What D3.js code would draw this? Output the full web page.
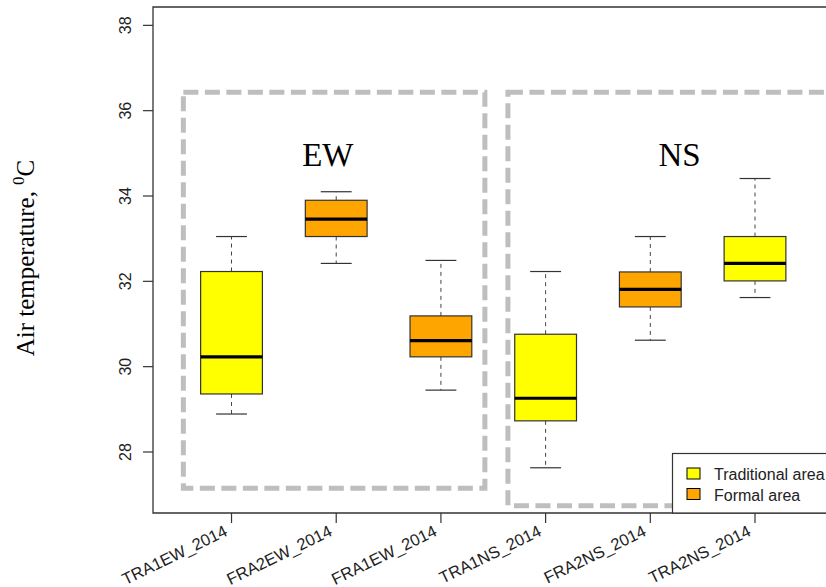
<!DOCTYPE html>
<html>
<head>
<meta charset="utf-8">
<script src="https://cdn.jsdelivr.net/npm/d3@7"></script>
<style>
  body { margin: 0; background: #fff; }
  svg { display: block; }
</style>
</head>
<body>
<svg id="chart" width="826" height="587"></svg>
<script>
// data
const categories = ["TRA1EW_2014", "FRA2EW_2014", "FRA1EW_2014", "TRA1NS_2014", "FRA2NS_2014", "TRA2NS_2014"];
const areaType = ["Traditional", "Formal", "Formal", "Traditional", "Formal", "Traditional"];
const lowerWhisker = [28.89, 32.42, 29.45, 27.63, 30.62, 31.62];
const q1 = [29.36, 33.05, 30.23, 28.73, 31.40, 32.01];
const median = [30.23, 33.46, 30.61, 29.26, 31.81, 32.42];
const q3 = [32.23, 33.90, 31.19, 30.76, 32.22, 33.05];
const upperWhisker = [33.05, 34.10, 32.49, 32.23, 33.05, 34.41];

const yTicks = [28, 30, 32, 34, 36, 38];
const groupNames = ["EW", "NS"];
// group frames in data units: [x0, x1, yBottom, yTop]
const groupX0 = [0.54, 3.64];
const groupX1 = [3.42, 6.9];
const groupYBottom = [27.15, 26.74];
const groupYTop = [36.43, 36.43];
const groupLabelX = [1.92, 5.28];
const groupLabelY = 34.7;

const legendLabels = ["Traditional area", "Formal area"];
const legendTypes = ["Traditional", "Formal"];
const colors = { Traditional: "#ffff00", Formal: "#ffa500" };

const svg = d3.select("#chart");

const x = d3.scaleLinear().domain([0.25, 7]).range([153, 859.7]);
const y = d3.scaleLinear().domain([26.57, 38.43]).range([513, 7]);
const boxW = 0.59;

const data = categories.map((c, i) => ({
    name: c, pos: i + 1, type: areaType[i],
    lo: lowerWhisker[i], q1: q1[i], med: median[i], q3: q3[i], hi: upperWhisker[i]
}));

// dashed group frames
groupNames.forEach((g, i) => {
    svg.append("rect")
        .attr("x", x(groupX0[i]))
        .attr("y", y(groupYTop[i]))
        .attr("width", x(groupX1[i]) - x(groupX0[i]))
        .attr("height", y(groupYBottom[i]) - y(groupYTop[i]))
        .attr("fill", "none")
        .attr("stroke", "#bebebe")
        .attr("stroke-width", 5)
        .attr("stroke-dasharray", "15,6.5");

    svg.append("text")
        .attr("x", x(groupLabelX[i]))
        .attr("y", y(groupLabelY))
        .attr("text-anchor", "middle")
        .attr("font-family", "'Liberation Serif', 'Times New Roman', serif")
        .attr("font-size", "33px")
        .attr("fill", "#000")
        .text(g);
});

// boxes
const box = svg.selectAll(".box").data(data).enter().append("g").attr("class", "box");

box.append("line")
    .attr("x1", d => x(d.pos)).attr("x2", d => x(d.pos))
    .attr("y1", d => y(d.q3)).attr("y2", d => y(d.hi))
    .attr("stroke", "#444").attr("stroke-dasharray", "4,4");
box.append("line")
    .attr("x1", d => x(d.pos)).attr("x2", d => x(d.pos))
    .attr("y1", d => y(d.q1)).attr("y2", d => y(d.lo))
    .attr("stroke", "#444").attr("stroke-dasharray", "4,4");

["hi", "lo"].forEach(k => {
    box.append("line")
        .attr("x1", d => x(d.pos - boxW / 4)).attr("x2", d => x(d.pos + boxW / 4))
        .attr("y1", d => y(d[k])).attr("y2", d => y(d[k]))
        .attr("stroke", "#333").attr("stroke-width", 1.2);
});

box.append("rect")
    .attr("x", d => x(d.pos - boxW / 2))
    .attr("width", d => x(d.pos + boxW / 2) - x(d.pos - boxW / 2))
    .attr("y", d => y(d.q3))
    .attr("height", d => y(d.q1) - y(d.q3))
    .attr("fill", d => colors[d.type])
    .attr("stroke", "#333")
    .attr("stroke-width", 1.2);

box.append("line")
    .attr("x1", d => x(d.pos - boxW / 2)).attr("x2", d => x(d.pos + boxW / 2))
    .attr("y1", d => y(d.med)).attr("y2", d => y(d.med))
    .attr("stroke", "#000").attr("stroke-width", 3.2);

// frame (left, top, bottom)
svg.append("path")
    .attr("d", `M${x(7)},${y(38.43)}H${x(0.25)}V${y(26.57)}H${x(7)}`)
    .attr("fill", "none").attr("stroke", "#333").attr("stroke-width", 1.3);

// y axis
const yAxis = svg.append("g").attr("font-family", "'Liberation Sans', Arial, sans-serif");
yTicks.forEach(t => {
    yAxis.append("line")
        .attr("x1", x(0.25) - 10).attr("x2", x(0.25))
        .attr("y1", y(t)).attr("y2", y(t))
        .attr("stroke", "#333").attr("stroke-width", 1.2);
    yAxis.append("text")
        .attr("transform", `translate(${x(0.25) - 22},${y(t)}) rotate(-90)`)
        .attr("text-anchor", "middle")
        .attr("font-size", "16px")
        .attr("fill", "#222")
        .text(t);
});

// x axis
const xAxis = svg.append("g").attr("font-family", "'Liberation Sans', Arial, sans-serif");
data.forEach(d => {
    xAxis.append("line")
        .attr("x1", x(d.pos)).attr("x2", x(d.pos))
        .attr("y1", y(26.57)).attr("y2", y(26.57) + 10)
        .attr("stroke", "#333").attr("stroke-width", 1.2);
    xAxis.append("text")
        .attr("transform", `translate(${x(d.pos) - 3},${y(26.57) + 22}) rotate(-26)`)
        .attr("text-anchor", "end")
        .attr("font-size", "16.5px")
        .attr("fill", "#222")
        .text(d.name);
});

// y label
const yl = svg.append("text")
    .attr("transform", "translate(34,258) rotate(-90)")
    .attr("text-anchor", "middle")
    .attr("font-family", "'Liberation Serif', 'Times New Roman', serif")
    .attr("font-size", "25px")
    .attr("fill", "#000");
yl.append("tspan").text("Air temperature, ");
yl.append("tspan").attr("font-size", "17px").attr("dy", -10).text("0");
yl.append("tspan").attr("dy", 10).text("C");

// legend
const lg = svg.append("g").attr("font-family", "'Liberation Sans', Arial, sans-serif");
lg.append("rect")
    .attr("x", 672.5).attr("y", 453.5).attr("width", 200).attr("height", y(26.57) - 453.5)
    .attr("fill", "#fff").attr("stroke", "#333").attr("stroke-width", 1.2);
legendLabels.forEach((l, i) => {
    lg.append("rect")
        .attr("x", 687).attr("y", 468 + i * 20.5).attr("width", 13).attr("height", 11)
        .attr("fill", colors[legendTypes[i]])
        .attr("stroke", "#000").attr("stroke-width", 1);
    lg.append("text")
        .attr("x", 714).attr("y", 480 + i * 20.5)
        .attr("font-size", "16px").attr("fill", "#222")
        .text(l);
});
</script>
</body>
</html>
